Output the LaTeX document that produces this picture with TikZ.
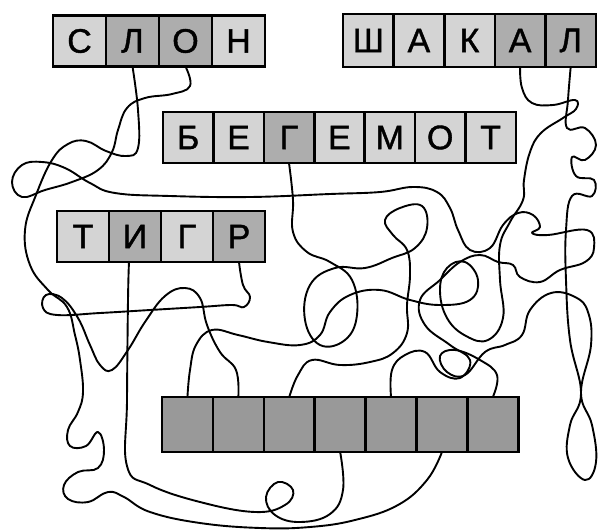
\documentclass[tikz,border=0pt]{standalone}
\usepackage{fontspec}
\setmainfont{Liberation Sans}
\newfontfamily\cellfont[FakeBold=1.2]{Liberation Sans}
\colorlet{lite}{black!17}
\colorlet{dark}{black!32}
\colorlet{blank}{black!40}
\tikzset{
  cell/.style={draw,line width=2.6pt,minimum width=51pt,minimum height=51pt,
    inner sep=0pt,outer sep=0pt,font=\cellfont\fontsize{34}{34}\selectfont},
  cord/.style={line width=1.9pt,line join=round,line cap=round},
}
\begin{document}
\begin{tikzpicture}[x=1pt,y=-1pt]
  \useasboundingbox (0,0) rectangle (598,531);

  % the words
  \foreach \l/\f [count=\i] in {С/lite,Л/dark,О/dark,Н/lite}
    \node[cell,minimum width=53pt,fill=\f] (slon\i) at ({53+(\i-0.5)*53},41) {\l};
  \foreach \l/\f [count=\i] in {Ш/lite,А/lite,К/lite,А/dark,Л/dark}
    \node[cell,minimum width=50.6pt,minimum height=53pt,fill=\f] (shakal\i) at ({343+(\i-0.5)*50.6},40.5) {\l};
  \foreach \l/\f [count=\i] in {Б/lite,Е/lite,Г/dark,Е/lite,М/lite,О/lite,Т/lite}
    \node[cell,minimum width=50.4pt,fill=\f] (begemot\i) at ({163+(\i-0.5)*50.4},137.5) {\l};
  \foreach \l/\f [count=\i] in {Т/lite,И/dark,Г/lite,Р/dark}
    \node[cell,minimum width=52pt,fill=\f] (tigr\i) at ({57+(\i-0.5)*52},236.5) {\l};

  % the empty row
  \foreach \i in {1,...,7}
    \node[cell,minimum width=50.9pt,minimum height=55pt,fill=blank] (blank\i) at ({162+(\i-0.5)*50.9},424.5) {};

  % the cords
  \draw[cord] plot[smooth,tension=0.7] coordinates {(slon2.south) (138,110) (138,148) (126,156)
    (106,151) (86,141) (68,144) (52,160) (36,195) (25,230) (30,265) (48,290) (67,307) (75,335)
    (80,360) (83,392) (78,412) (68,430) (70,446) (86,446) (98,432) (104,450) (98,468) (78,472)
    (64,485) (68,499) (88,502) (108,492) (124,497) (150,512) (200,523) (260,528) (310,527)
    (355,520) (398,505) (427,480) (blank6.south)};
  \draw[cord] plot[smooth,tension=0.7] coordinates {(slon3.south) (190,86) (172,94) (145,98)
    (127,108) (118,130) (112,152) (98,170) (72,182) (45,190) (22,197) (12,182) (22,165) (42,162)
    (65,168) (90,183) (115,193) (170,196) (250,197) (330,194) (380,192) (413,187) (437,192)
    (450,208) (458,230) (470,250) (490,248) (503,225) (518,213) (533,215) (540,227) (532,233)
    (548,235) (587,230) (594,248) (585,262) (560,270) (540,282) (520,277) (513,265) (498,262)
    (480,255) (460,262) (440,280) (420,300) (425,325) (450,345) (470,360) (460,378) (440,372)
    (425,352) (405,355) (392,370) (blank5.north)};
  \draw[cord] plot[smooth,tension=0.7] coordinates {([xshift=-6pt]tigr2.south) (128,300) (127,400)
    (127,466) (150,485) (200,502) (255,512) (285,505) (293,490) (278,482) (266,497) (275,515)
    (300,522) (330,514) (343,490) (blank4.south)};
  \draw[cord] plot[smooth,tension=0.7] coordinates {(tigr4.south) (243,285) (250,297) (244,307)
    (232,305) (200,307) (150,310) (100,313) (57,315) (43,308) (46,295) (62,298) (78,318) (90,345)
    (100,365) (112,370) (128,350) (145,322) (165,296) (185,288) (200,298) (207,325) (220,352)
    (236,370) (blank2.north)};
  \draw[cord] plot[smooth,tension=0.7] coordinates {(begemot3.south) (293,200) (293,232)
    (307,252) (330,262) (352,280) (357,315) (345,340) (320,345) (305,320) (310,285) (335,268)
    (365,268) (392,258) (415,248) (427,228) (422,206) (400,208) (385,220) (393,235) (407,250)
    (410,275) (407,305) (407,333) (393,353) (370,362) (340,365) (312,360) (298,375) (blank3.north)};
  \draw[cord] plot[smooth,tension=0.7] coordinates {(shakal4.south) (522,88) (532,103) (553,105)
    (575,100) (576,109) (563,118) (541,133) (530,152) (524,180) (523,200) (510,222) (500,245)
    (500,280) (503,318) (488,340) (466,336) (447,318) (440,290) (447,268) (465,262) (478,280)
    (470,300) (440,305) (410,300) (380,290) (350,295) (330,312) (320,335) (300,345) (268,342)
    (238,335) (212,330) (196,345) (190,370) (blank1.north)};
  \draw[cord] plot[smooth,tension=0.7] coordinates {(shakal5.south) (568,100) (567,128) (585,128)
    (596,145) (585,160) (572,157) (576,176) (594,180) (592,196) (572,196) (566,230) (566,280)
    (570,340) (581,393) (570,425) (568,458) (585,480) (596,462) (592,425) (581,393) (591,345)
    (588,312) (575,297) (551,293) (530,310) (522,335) (505,345) (485,352) (465,375) (447,372)
    (440,356) (455,350) (480,360) (497,375) (blank7.north)};
\end{tikzpicture}
\end{document}
